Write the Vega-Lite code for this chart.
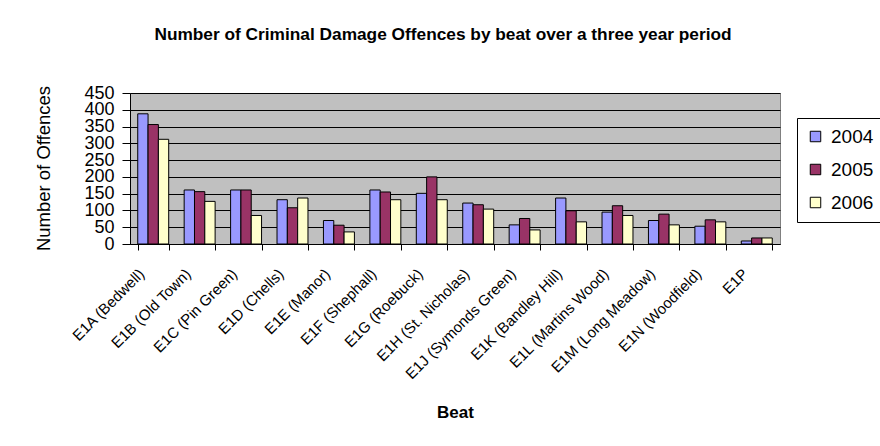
{
  "$schema": "https://vega.github.io/schema/vega-lite/v6.json",
  "width": 650,
  "height": 151,
  "autosize": {"type": "none"},
  "padding": {"left": 130, "top": 93, "right": 100, "bottom": 202},
  "background": "white",
  "title": {
    "text": "Number of Criminal Damage Offences by beat over a three year period",
    "font": "Liberation Sans",
    "fontSize": 17.3,
    "fontWeight": "bold",
    "color": "black",
    "anchor": "middle",
    "frame": "group",
    "dx": -12,
    "offset": 41
  },
  "data": {
    "values": [
      {"beat": "E1A (Bedwell)", "year": "2004", "value": 388},
      {"beat": "E1A (Bedwell)", "year": "2005", "value": 356},
      {"beat": "E1A (Bedwell)", "year": "2006", "value": 312},
      {"beat": "E1B (Old Town)", "year": "2004", "value": 161},
      {"beat": "E1B (Old Town)", "year": "2005", "value": 156},
      {"beat": "E1B (Old Town)", "year": "2006", "value": 127},
      {"beat": "E1C (Pin Green)", "year": "2004", "value": 161},
      {"beat": "E1C (Pin Green)", "year": "2005", "value": 161},
      {"beat": "E1C (Pin Green)", "year": "2006", "value": 85},
      {"beat": "E1D (Chells)", "year": "2004", "value": 132},
      {"beat": "E1D (Chells)", "year": "2005", "value": 108},
      {"beat": "E1D (Chells)", "year": "2006", "value": 137},
      {"beat": "E1E (Manor)", "year": "2004", "value": 70},
      {"beat": "E1E (Manor)", "year": "2005", "value": 56},
      {"beat": "E1E (Manor)", "year": "2006", "value": 36},
      {"beat": "E1F (Shephall)", "year": "2004", "value": 161},
      {"beat": "E1F (Shephall)", "year": "2005", "value": 155},
      {"beat": "E1F (Shephall)", "year": "2006", "value": 132},
      {"beat": "E1G (Roebuck)", "year": "2004", "value": 151},
      {"beat": "E1G (Roebuck)", "year": "2005", "value": 200},
      {"beat": "E1G (Roebuck)", "year": "2006", "value": 132},
      {"beat": "E1H (St. Nicholas)", "year": "2004", "value": 122},
      {"beat": "E1H (St. Nicholas)", "year": "2005", "value": 117},
      {"beat": "E1H (St. Nicholas)", "year": "2006", "value": 104},
      {"beat": "E1J (Symonds Green)", "year": "2004", "value": 57},
      {"beat": "E1J (Symonds Green)", "year": "2005", "value": 76},
      {"beat": "E1J (Symonds Green)", "year": "2006", "value": 42},
      {"beat": "E1K (Bandley Hill)", "year": "2004", "value": 137},
      {"beat": "E1K (Bandley Hill)", "year": "2005", "value": 99},
      {"beat": "E1K (Bandley Hill)", "year": "2006", "value": 66},
      {"beat": "E1L (Martins Wood)", "year": "2004", "value": 95},
      {"beat": "E1L (Martins Wood)", "year": "2005", "value": 114},
      {"beat": "E1L (Martins Wood)", "year": "2006", "value": 85},
      {"beat": "E1M (Long Meadow)", "year": "2004", "value": 70},
      {"beat": "E1M (Long Meadow)", "year": "2005", "value": 89},
      {"beat": "E1M (Long Meadow)", "year": "2006", "value": 57},
      {"beat": "E1N (Woodfield)", "year": "2004", "value": 53},
      {"beat": "E1N (Woodfield)", "year": "2005", "value": 72},
      {"beat": "E1N (Woodfield)", "year": "2006", "value": 66},
      {"beat": "E1P", "year": "2004", "value": 9},
      {"beat": "E1P", "year": "2005", "value": 18},
      {"beat": "E1P", "year": "2006", "value": 18}
    ]
  },
  "mark": {"type": "bar", "stroke": "black", "strokeWidth": 1},
  "encoding": {
    "x": {
      "field": "beat",
      "type": "nominal",
      "sort": null,
      "scale": {"paddingInner": 0.3333, "paddingOuter": 0.1667},
      "axis": {
        "title": "Beat",
        "titleFont": "Liberation Sans",
        "titleFontSize": 17,
        "titleFontWeight": "bold",
        "titleColor": "black",
        "titleY": 168,
        "titleBaseline": "middle",
        "labelAngle": -45,
        "labelAlign": "right",
        "labelBaseline": "middle",
        "labelFont": "Liberation Sans",
        "labelFontSize": 15,
        "labelColor": "black",
        "labelOverlap": false,
        "labelLimit": 300,
        "labelOffset": -12,
        "labelPadding": 21,
        "tickBand": "extent",
        "tickSize": 6,
        "tickColor": "black",
        "domainColor": "black",
        "grid": false
      }
    },
    "xOffset": {
      "field": "year",
      "type": "nominal",
      "scale": {"paddingInner": 0, "paddingOuter": 0}
    },
    "y": {
      "field": "value",
      "type": "quantitative",
      "scale": {"domain": [0, 450], "nice": false},
      "axis": {
        "title": "Number of Offences",
        "titleFont": "Liberation Sans",
        "titleFontSize": 18.5,
        "titleFontWeight": "normal",
        "titleColor": "black",
        "titleX": -87,
        "titleY": 75,
        "titleBaseline": "middle",
        "titleAlign": "center",
        "values": [0, 50, 100, 150, 200, 250, 300, 350, 400, 450],
        "labelFont": "Liberation Sans",
        "labelFontSize": 18,
        "labelColor": "black",
        "labelOverlap": false,
        "labelPadding": 8,
        "tickSize": 8,
        "tickColor": "black",
        "domainColor": "black",
        "grid": true,
        "gridColor": "black",
        "gridWidth": 1
      }
    },
    "color": {
      "field": "year",
      "type": "nominal",
      "scale": {"domain": ["2004", "2005", "2006"], "range": ["#9999FF", "#993366", "#FFFFCC"]},
      "legend": {
        "title": null,
        "orient": "none",
        "legendX": 667,
        "legendY": 25,
        "strokeColor": "black",
        "fillColor": "white",
        "padding": 9,
        "symbolType": "square",
        "symbolSize": 110,
        "symbolStrokeColor": "black",
        "symbolStrokeWidth": 1,
        "labelFont": "Liberation Sans",
        "labelFontSize": 19,
        "labelColor": "black",
        "labelOffset": 6,
        "rowPadding": 13
      }
    }
  },
  "config": {
    "view": {"fill": "#C0C0C0", "stroke": "#808080", "strokeWidth": 1}
  }
}
